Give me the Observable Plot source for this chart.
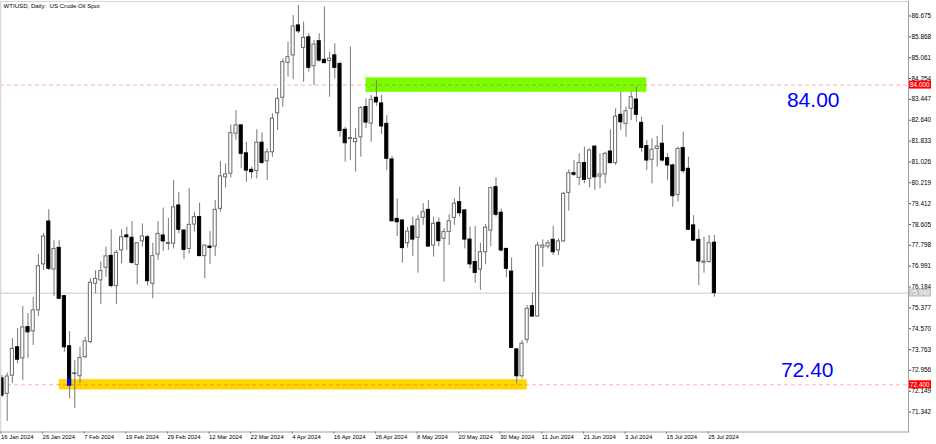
<!DOCTYPE html>
<html><head><meta charset="utf-8">
<script src="https://cdn.jsdelivr.net/npm/d3@7"></script>
<script src="https://cdn.jsdelivr.net/npm/@observablehq/plot@0.6"></script>
<style>
html,body{margin:0;padding:0;background:#fff;}
#chart{width:936px;height:444px;overflow:hidden;}
svg{display:block;}
</style></head><body><div id="chart"></div>
<script>
const title = "WTIUSD, Daily:  US Crude Oil Spot";
const dates = [
"2024-01-16","2024-01-17","2024-01-18","2024-01-19","2024-01-22","2024-01-23","2024-01-24","2024-01-25","2024-01-26","2024-01-29","2024-01-30","2024-01-31",
"2024-02-01","2024-02-02","2024-02-05","2024-02-06","2024-02-07","2024-02-08","2024-02-09","2024-02-12","2024-02-13","2024-02-14","2024-02-15","2024-02-16","2024-02-19","2024-02-20","2024-02-21","2024-02-22","2024-02-23","2024-02-26","2024-02-27","2024-02-28","2024-02-29",
"2024-03-01","2024-03-04","2024-03-05","2024-03-06","2024-03-07","2024-03-08","2024-03-11","2024-03-12","2024-03-13","2024-03-14","2024-03-15","2024-03-18","2024-03-19","2024-03-20","2024-03-21","2024-03-22","2024-03-25","2024-03-26","2024-03-27","2024-03-28",
"2024-04-01","2024-04-02","2024-04-03","2024-04-04","2024-04-05","2024-04-08","2024-04-09","2024-04-10","2024-04-11","2024-04-12","2024-04-15","2024-04-16","2024-04-17","2024-04-18","2024-04-19","2024-04-22","2024-04-23","2024-04-24","2024-04-25","2024-04-26","2024-04-29","2024-04-30",
"2024-05-01","2024-05-02","2024-05-03","2024-05-06","2024-05-07","2024-05-08","2024-05-09","2024-05-10","2024-05-13","2024-05-14","2024-05-15","2024-05-16","2024-05-17","2024-05-20","2024-05-21","2024-05-22","2024-05-23","2024-05-24","2024-05-27","2024-05-28","2024-05-29","2024-05-30","2024-05-31",
"2024-06-03","2024-06-04","2024-06-05","2024-06-06","2024-06-07","2024-06-10","2024-06-11","2024-06-12","2024-06-13","2024-06-14","2024-06-17","2024-06-18","2024-06-19","2024-06-20","2024-06-21","2024-06-24","2024-06-25","2024-06-26","2024-06-27","2024-06-28",
"2024-07-01","2024-07-02","2024-07-03","2024-07-04","2024-07-05","2024-07-08","2024-07-09","2024-07-10","2024-07-11","2024-07-12","2024-07-15","2024-07-16","2024-07-17","2024-07-18","2024-07-19","2024-07-22","2024-07-23","2024-07-24","2024-07-25","2024-07-26"
];
const open = [72.65,72.05,72.75,73.85,73.42,74.63,74.47,75.28,77.06,78.72,76.86,77.70,
75.83,73.89,72.81,72.73,73.47,74.05,76.31,76.44,76.93,77.39,76.22,77.60,78.18,78.09,77.04,77.95,78.11,76.31,77.44,78.18,77.85,
77.86,79.34,78.37,77.66,78.60,78.89,77.38,77.75,77.75,79.21,80.43,80.57,82.12,82.44,81.36,80.72,80.67,81.77,81.05,81.40,
82.91,83.51,84.86,85.15,86.31,85.44,85.85,84.73,85.70,84.98,84.93,85.15,84.82,82.27,81.91,81.79,81.98,83.15,82.51,83.51,83.29,82.50,
81.12,78.82,78.76,77.88,78.53,78.09,78.86,79.17,77.79,78.67,78.05,78.31,78.86,79.47,79.15,78.02,77.15,76.86,77.53,78.37,80.05,79.06,77.66,
76.78,73.77,72.73,74.14,75.44,75.04,77.71,77.75,78.01,77.60,77.95,79.83,80.59,80.41,80.98,80.37,81.62,80.46,80.54,81.43,
80.98,82.85,82.50,83.08,83.44,82.54,81.64,81.11,81.53,81.73,81.17,80.89,79.75,81.56,80.76,78.57,78.01,77.12,77.15,77.90];
const high = [72.76,72.85,74.19,74.58,75.43,75.16,75.79,77.44,78.26,79.18,77.98,77.98,
75.86,74.46,73.34,73.85,74.24,76.50,76.82,77.15,77.73,78.40,77.60,78.41,78.50,78.72,77.90,78.63,78.18,77.88,78.72,79.24,78.84,
80.31,79.85,78.40,79.99,79.08,79.43,77.81,78.33,79.53,81.04,80.95,82.46,83.02,82.46,81.79,80.82,82.27,82.15,81.53,82.89,
83.86,85.02,85.66,86.69,87.08,86.44,85.99,85.73,85.99,87.02,85.27,85.60,84.89,82.37,85.47,82.31,83.17,83.47,83.60,84.17,83.60,82.82,
81.24,79.60,78.78,78.50,78.89,78.95,79.41,79.53,78.89,78.86,78.44,78.99,79.60,80.05,79.17,78.50,78.53,77.88,78.60,80.05,80.41,79.21,77.68,
77.31,73.79,74.11,75.47,75.96,77.92,78.01,77.98,78.53,78.05,79.85,80.72,81.08,81.34,81.60,81.53,81.64,81.34,81.40,82.27,
83.08,83.73,83.15,83.73,83.92,82.76,81.86,81.92,82.01,82.44,81.34,80.95,81.60,82.18,81.21,78.95,78.40,78.11,78.18,78.18];
const low = [71.91,70.98,72.45,73.22,72.57,73.42,73.92,75.04,76.82,76.82,75.82,75.70,
73.66,71.86,71.48,72.44,73.41,73.99,75.92,75.51,76.56,76.15,75.51,77.08,77.60,77.06,76.27,77.73,76.22,75.73,77.21,77.56,77.60,
77.66,78.24,77.24,77.47,78.31,77.36,76.50,77.06,77.37,79.08,80.02,80.41,81.86,80.76,80.24,80.37,80.37,80.93,80.31,81.21,
82.24,83.14,84.31,84.21,85.99,84.11,84.50,83.98,84.89,84.82,83.53,84.24,81.98,81.02,81.08,80.63,81.21,82.31,81.79,83.17,82.09,80.69,
78.69,78.14,77.11,77.69,77.37,76.72,78.57,77.72,77.34,77.75,76.37,77.79,78.57,78.89,77.66,76.89,76.33,76.05,77.06,77.75,78.89,77.53,76.54,
73.80,72.43,72.63,73.99,75.02,75.02,76.95,77.66,77.40,77.40,77.92,79.12,80.46,80.11,80.18,80.02,79.92,79.99,80.18,80.95,
80.89,82.24,81.98,82.63,82.56,81.40,80.69,80.18,80.82,81.02,80.31,79.27,79.47,80.57,78.37,77.96,76.24,76.72,77.11,75.79];
const close = [71.98,72.72,73.79,73.37,74.62,74.43,75.28,76.99,78.14,76.89,77.66,75.73,
73.85,72.37,72.85,73.44,74.08,76.35,76.50,76.80,77.37,76.22,77.51,78.11,78.11,77.12,77.88,78.14,76.41,77.38,78.24,77.95,77.89,
79.27,78.40,77.62,78.59,78.89,77.38,77.79,77.70,79.17,80.47,80.54,82.14,82.44,81.34,80.69,80.63,81.77,80.99,81.40,82.70,
83.47,84.89,85.08,86.27,86.08,85.83,84.67,85.57,84.95,84.85,85.02,84.67,82.22,81.75,81.95,81.92,83.11,82.55,83.43,83.33,82.40,81.15,
78.73,78.69,77.69,78.33,78.02,78.79,79.08,77.75,78.63,77.96,78.31,78.73,79.41,79.04,78.02,77.06,76.73,77.53,78.48,80.01,78.98,77.60,76.89,
73.83,72.73,73.99,75.34,75.04,77.79,77.79,77.88,77.53,77.95,79.79,80.59,80.53,80.98,80.33,81.47,80.43,80.54,81.34,80.98,
82.78,82.56,82.99,83.53,82.85,81.57,81.08,81.50,81.62,81.08,80.89,79.70,81.53,80.67,78.40,77.98,77.17,77.17,77.88,75.948];
const tickDates = ["2024-01-16","2024-01-26","2024-02-07","2024-02-19","2024-02-29","2024-03-12","2024-03-22","2024-04-04","2024-04-16","2024-04-26","2024-05-08","2024-05-20","2024-05-30","2024-06-11","2024-06-21","2024-07-03","2024-07-15","2024-07-25"];
const tickLabels = ["16 Jan 2024","26 Jan 2024","7 Feb 2024","19 Feb 2024","29 Feb 2024","12 Mar 2024","22 Mar 2024","4 Apr 2024","16 Apr 2024","26 Apr 2024","8 May 2024","20 May 2024","30 May 2024","11 Jun 2024","21 Jun 2024","3 Jul 2024","15 Jul 2024","25 Jul 2024"];
const priceTicks = [86.675,85.868,85.061,84.254,83.447,82.640,81.833,81.026,80.219,79.412,78.605,77.798,76.991,76.184,75.377,74.570,73.763,72.956,72.149,71.342];
const levels = [84.00, 72.40];
const levelTexts = ["84.00", "72.40"];
const bid = 75.948;
const zoneStart = ["2024-04-24", "2024-01-31"];
const zoneEnd = ["2024-07-09", "2024-06-06"];
const zoneLow = [83.72, 72.20];
const zoneHigh = [84.28, 72.60];
const zoneColor = ["#7cfc00", "#ffd700"];

(function () {
const idx = new Map(dates.map((d, i) => [d, i]));
const candles = dates.map((d, i) => ({i, o: open[i], h: high[i], l: low[i], c: close[i]}));
const bulls = candles.filter(d => d.c >= d.o);
const bears = candles.filter(d => d.c < d.o);
const zones = zoneStart.map((s, k) => ({x1: idx.get(s), x2: idx.get(zoneEnd[k]), y1: zoneLow[k], y2: zoneHigh[k], fill: zoneColor[k]}));
const overlap = [];
zones.forEach(z => bears.forEach(d => {
  if (d.i >= z.x1 && d.i <= z.x2) {
    const a = Math.max(d.c, z.y1), b = Math.min(d.o, z.y2);
    if (b > a) overlap.push({i: d.i, y1: a, y2: b});
  }
}));
const xTicks = tickDates.map(d => idx.get(d));
const labelOf = new Map(xTicks.map((t, k) => [t, tickLabels[k]]));
const hw = 0.3;
const W = 936, H = 444, mR = 28, mT = 1, mB = 12.5;
const pxPerBar = 5.2, firstX = 1.5;
const font = "'Liberation Sans', Arial, sans-serif";

const chart = Plot.plot({
  width: W, height: H,
  marginLeft: 0, marginRight: mR, marginTop: mT, marginBottom: mB,
  style: {fontFamily: font, fontSize: "6px", background: "#fff", color: "#000"},
  x: {domain: [-firstX / pxPerBar, (W - mR - firstX) / pxPerBar]},
  y: {domain: [70.572, 87.236]},
  color: {type: "identity"},
  marks: [
    Plot.rect(zones, {x1: "x1", x2: "x2", y1: "y1", y2: "y2", fill: "fill"}),
    Plot.ruleY([bid], {stroke: "#c8c8c8"}),
    Plot.ruleY(levels, {stroke: "red", strokeOpacity: 0.3, strokeDasharray: "4,3"}),
    Plot.ruleX(candles, {x: "i", y1: "l", y2: "h", stroke: "#777"}),
    Plot.rect(bears, {x1: d => d.i - hw, x2: d => d.i + hw, y1: "o", y2: "c", fill: "#000", stroke: "#000"}),
    Plot.rect(bulls, {x1: d => d.i - hw, x2: d => d.i + hw, y1: "o", y2: "c", fill: "#fff", stroke: "#6a6a6a"}),
    Plot.rect(overlap, {x1: d => d.i - hw, x2: d => d.i + hw, y1: "y1", y2: "y2", fill: "#0000ff", stroke: "#0000ff"}),
    Plot.text([levelTexts[0]], {y: () => levels[0], frameAnchor: "right", dx: -69, dy: 15.5, textAnchor: "end", lineAnchor: "middle", fill: "#0000ff", fontSize: 21, text: d => d}),
    Plot.text([levelTexts[1]], {y: () => levels[1], frameAnchor: "right", dx: -75, dy: -14.3, textAnchor: "end", lineAnchor: "middle", fill: "#0000ff", fontSize: 21, text: d => d}),
    Plot.text([title], {frameAnchor: "top-left", dx: 3, dy: 2, textAnchor: "start", lineAnchor: "top", fontSize: 6.1, fill: "#000", text: d => d}),
    Plot.axisY(priceTicks, {anchor: "right", tickFormat: d => d.toFixed(3), tickSize: 2, tickPadding: 1, fontSize: 6.4, stroke: "#555"}),
    Plot.axisX(xTicks, {anchor: "bottom", tickFormat: d => labelOf.get(d), textAnchor: "start", dx: -1, tickSize: 2, tickPadding: 1, fontSize: 5.9, stroke: "#555"}),
    Plot.frame({stroke: "#a0a0a0"})
  ]
});
document.getElementById("chart").appendChild(chart);

const svg = d3.select(chart);
const ys = chart.scale("y");
const xs = chart.scale("x");
const rightX = xs.range[1];
const topY = ys.range[1], bottomY = ys.range[0];
svg.append("line").attr("x1", 0.5).attr("x2", 0.5).attr("y1", topY).attr("y2", bottomY).attr("stroke", "#d8d8d8").attr("stroke-width", 1.5);
svg.append("line").attr("x1", 0).attr("x2", rightX).attr("y1", topY + 0.5).attr("y2", topY + 0.5).attr("stroke", "#d8d8d8");
const boxes = [
  {v: levels[0], bg: "#ff0000", fg: "#fff"},
  {v: levels[1], bg: "#ff0000", fg: "#fff"},
  {v: bid, bg: "#c4c4c4", fg: "#fff"}
];
const g = svg.append("g").attr("text-anchor", "start");
boxes.forEach(b => {
  const py = ys.apply(b.v);
  g.append("rect").attr("x", rightX + 1).attr("y", py - 4).attr("width", 22).attr("height", 8).attr("fill", b.bg);
  g.append("text").attr("x", rightX + 2).attr("y", py).attr("dy", "0.35em")
    .attr("text-anchor", "start")
    .attr("font-size", 6.4).attr("font-family", font)
    .attr("fill", b.fg).text(b.v.toFixed(3));
});
})();
</script>
</body></html>
